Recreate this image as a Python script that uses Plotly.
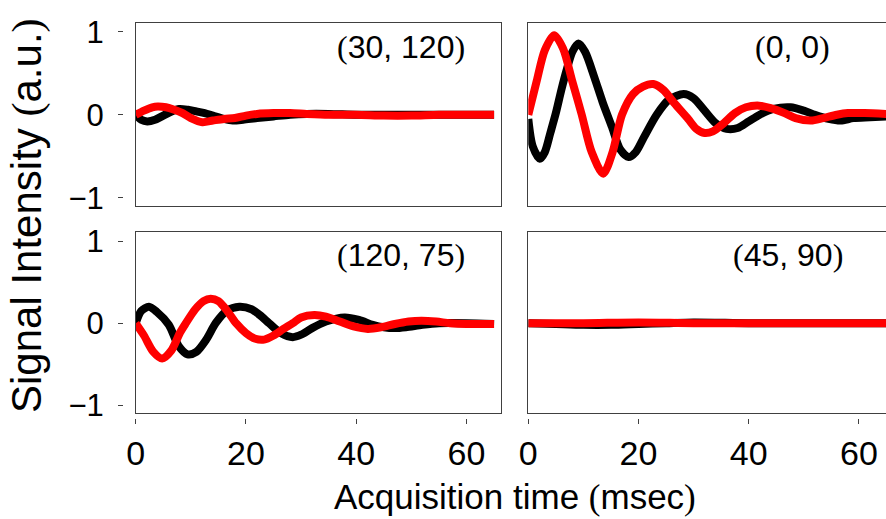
import plotly.graph_objects as go

# ---------------- data ----------------
# panel (30, 120)  -- top left
t_a_black = [0, 1, 2.1, 3.5, 5, 6.5, 7.9, 9.5, 11, 12.5, 14, 16, 17.6, 19.5, 22, 25, 28, 31, 35, 40, 45, 50, 55, 60, 65]
v_a_black = [0.0, -0.06, -0.08, -0.06, -0.01, 0.04, 0.07, 0.06, 0.04, 0.02, -0.01, -0.05, -0.07, -0.06, -0.04, -0.02, 0.0, 0.01, 0.01, 0.0, 0.0, 0.0, 0.0, 0.0, 0.0]
t_a_red = [0, 1.5, 3, 4, 5.5, 7, 8.5, 10, 12.1, 14, 16, 18, 20, 22, 25, 28, 31, 35, 40, 45, 50, 55, 60, 65]
v_a_red = [0.0, 0.05, 0.09, 0.1, 0.09, 0.06, 0.02, -0.04, -0.09, -0.07, -0.05, -0.04, -0.01, 0.01, 0.02, 0.02, 0.01, 0.0, 0.0, -0.01, -0.01, 0.0, 0.0, 0.0]

# panel (0, 0)  -- top right
t_b_black = [0, 0.8, 2.1, 3, 4, 5, 6, 7, 8, 9.1, 10.3, 12, 13.5, 15.2, 16.7, 18.2, 19.5, 21, 23.3, 25.5, 28.2, 30, 32, 34, 36, 38, 40, 42, 44.5, 47.6, 50, 52, 54.5, 56.7, 59, 62, 65]
v_b_black = [-0.05, -0.38, -0.53, -0.45, -0.22, 0.02, 0.3, 0.55, 0.76, 0.86, 0.76, 0.45, 0.15, -0.15, -0.42, -0.51, -0.45, -0.27, 0.0, 0.18, 0.25, 0.2, 0.05, -0.1, -0.17, -0.16, -0.08, 0.0, 0.07, 0.09, 0.05, 0.0, -0.05, -0.07, -0.04, -0.03, -0.02]
t_b_red = [0, 1.5, 3, 4.7, 6.3, 8, 9.7, 11.5, 13.6, 15.3, 17, 19, 20.8, 22.7, 24.5, 26.5, 29, 30.5, 32, 33.5, 35.5, 37.5, 39.5, 41.9, 44, 46.5, 48.5, 51.3, 53.5, 56, 58, 61, 65]
v_b_red = [0.0, 0.4, 0.78, 0.96, 0.8, 0.4, 0.0, -0.45, -0.71, -0.45, 0.0, 0.25, 0.34, 0.37, 0.3, 0.14, -0.05, -0.17, -0.22, -0.2, -0.1, 0.02, 0.09, 0.11, 0.08, 0.02, -0.04, -0.07, -0.04, 0.0, 0.02, 0.02, 0.01]

# panel (120, 75)  -- bottom left
t_c_black = [0, 1, 2.4, 3.8, 6, 7.8, 9.4, 11, 12.8, 14.5, 16.5, 18.8, 21, 22.5, 24.2, 26.3, 28.5, 30, 32, 34.5, 37.9, 40.5, 43, 45, 47, 49, 52, 55, 60, 65]
v_c_black = [0.0, 0.15, 0.2, 0.14, -0.02, -0.28, -0.38, -0.35, -0.2, 0.0, 0.15, 0.2, 0.17, 0.1, 0.0, -0.12, -0.17, -0.14, -0.06, 0.02, 0.07, 0.04, -0.02, -0.05, -0.06, -0.05, -0.02, 0.0, 0.0, -0.01]
t_c_red = [0, 1.5, 3.2, 4.8, 6.5, 8, 9.1, 10.8, 12.3, 13.6, 15, 16.6, 18.2, 20, 21.7, 23.3, 25, 26.8, 28.5, 30, 32.4, 34.5, 37, 39.5, 42.1, 44.5, 47, 49.5, 51.8, 54.5, 57, 60, 65]
v_c_red = [0.0, -0.15, -0.35, -0.43, -0.33, -0.12, 0.0, 0.17, 0.27, 0.3, 0.27, 0.15, 0.0, -0.12, -0.19, -0.2, -0.15, -0.07, 0.0, 0.07, 0.1, 0.08, 0.02, -0.04, -0.07, -0.05, -0.01, 0.02, 0.03, 0.02, 0.0, -0.01, -0.01]

# panel (45, 90)  -- bottom right
t_d_black = [0, 5, 10, 15, 20, 25, 30, 40, 50, 65]
v_d_black = [0.0, -0.01, -0.02, -0.02, -0.01, 0.0, 0.01, 0.0, 0.0, 0.0]
t_d_red = [0, 10, 20, 30, 40, 50, 65]
v_d_red = [0.0, 0.0, 0.01, 0.0, 0.0, 0.0, 0.0]

panel_labels = ["(30, 120)", "(0, 0)", "(120, 75)", "(45, 90)"]
x_ticks = [0, 20, 40, 60]
y_ticks = [-1, 0, 1]
y_tick_text = ["\u22121", "0", "1"]
x_title = "Acquisition time (msec)"
y_title = "Signal Intensity (a.u.)"

# ---------------- figure ----------------
W, H = 886, 519
FONT = "Liberation Sans, Arial, sans-serif"
SERIF = "Liberation Serif, Times New Roman, serif"

def px_x(p):
    return p / W

def px_y(p):
    return 1 - p / H

xdom_left = [px_x(135.7), px_x(500.7)]
xdom_right = [px_x(528.3), 1.0]
ydom_top = [px_y(206), px_y(22.7)]
ydom_bot = [px_y(413.3), px_y(232.3)]

xr_left = [0, 66.2]
xr_right = [0, (886 - 528.3) / 5.51]
yr = [-1.1, 1.11]

fig = go.Figure()

series = [
    ("x", "y", t_a_black, v_a_black, t_a_red, v_a_red),
    ("x2", "y2", t_b_black, v_b_black, t_b_red, v_b_red),
    ("x3", "y3", t_c_black, v_c_black, t_c_red, v_c_red),
    ("x4", "y4", t_d_black, v_d_black, t_d_red, v_d_red),
]
for xa, ya, tb, vb, tr, vr in series:
    fig.add_trace(go.Scatter(x=tb, y=vb, mode="lines", line=dict(color="black", width=8, shape="spline", smoothing=0.8),
                             xaxis=xa, yaxis=ya, showlegend=False, hoverinfo="skip", cliponaxis=True))
    fig.add_trace(go.Scatter(x=tr, y=vr, mode="lines", line=dict(color="#ff0000", width=8, shape="spline", smoothing=0.8),
                             xaxis=xa, yaxis=ya, showlegend=False, hoverinfo="skip", cliponaxis=True))

# dummy traces for the detached tick axes
for xa, ya in [("x5", "y3"), ("x6", "y4"), ("x", "y5"), ("x3", "y6")]:
    fig.add_trace(go.Scatter(x=[None], y=[None], xaxis=xa, yaxis=ya, showlegend=False, hoverinfo="skip"))

box = dict(showline=True, mirror=True, linecolor="#404040", linewidth=1, ticks="", showticklabels=False,
           showgrid=False, zeroline=False, fixedrange=True, automargin=False)

layout = dict(
    width=W, height=H, margin=dict(l=0, r=0, t=0, b=0, autoexpand=False),
    paper_bgcolor="white", plot_bgcolor="white",
    font=dict(family=FONT, color="black"),
    xaxis=dict(domain=xdom_left, range=xr_left, anchor="y", **box),
    xaxis2=dict(domain=xdom_right, range=xr_right, anchor="y2", **box),
    xaxis3=dict(domain=xdom_left, range=xr_left, anchor="y3", **box),
    xaxis4=dict(domain=xdom_right, range=xr_right, anchor="y4", **box),
    yaxis=dict(domain=ydom_top, range=yr, anchor="x", **box),
    yaxis2=dict(domain=ydom_top, range=yr, anchor="x2", **box),
    yaxis3=dict(domain=ydom_bot, range=yr, anchor="x3", **box),
    yaxis4=dict(domain=ydom_bot, range=yr, anchor="x4", **box),
)

tick_common = dict(showline=False, showgrid=False, zeroline=False, ticks="outside", ticklen=5, tickwidth=1,
                   tickcolor="#404040", fixedrange=True, automargin=False)
layout["xaxis5"] = dict(overlaying="x3", anchor="free", position=px_y(418), side="bottom", range=xr_left,
                        tickvals=x_ticks, ticktext=[str(v) for v in x_ticks], tickfont=dict(size=34, family=FONT),
                        **tick_common)
layout["xaxis6"] = dict(overlaying="x4", anchor="free", position=px_y(418), side="bottom", range=xr_right,
                        tickvals=x_ticks, ticktext=[str(v) for v in x_ticks], tickfont=dict(size=34, family=FONT),
                        **tick_common)
layout["yaxis5"] = dict(overlaying="y", anchor="free", position=px_x(123), side="left", range=yr,
                        tickvals=y_ticks, ticktext=y_tick_text, tickfont=dict(size=31, family=FONT),
                        ticklabelstandoff=8, **tick_common)
layout["yaxis6"] = dict(overlaying="y3", anchor="free", position=px_x(123), side="left", range=yr,
                        tickvals=y_ticks, ticktext=y_tick_text, tickfont=dict(size=31, family=FONT),
                        ticklabelstandoff=8, **tick_common)

fig.update_layout(**layout)

def serif_parens(s):
    return s.replace("(", "<span style='font-family:%s'>(</span>" % SERIF).replace(
        ")", "<span style='font-family:%s'>)</span>" % SERIF)

label_pos = [("x", "y", 0.727, 0.867), ("x2", "y2", 0.74, 0.867), ("x3", "y3", 0.727, 0.875), ("x4", "y4", 0.726, 0.875)]
for (xa, ya, ax, ay), lab in zip(label_pos, panel_labels):
    fig.add_annotation(text=serif_parens(lab), xref=xa + " domain", yref=ya + " domain", x=ax, y=ay,
                       showarrow=False, xanchor="center", yanchor="middle", font=dict(size=32, family=FONT))

fig.add_annotation(text=serif_parens(x_title), xref="paper", yref="paper", x=px_x(515), y=px_y(497),
                   showarrow=False, xanchor="center", yanchor="middle", font=dict(size=35, family=FONT))
fig.add_annotation(text=serif_parens(y_title), xref="paper", yref="paper", x=px_x(27), y=px_y(216),
                   showarrow=False, xanchor="center", yanchor="middle", textangle=-90,
                   font=dict(size=42, family=FONT))

fig.write_html("out.html")
